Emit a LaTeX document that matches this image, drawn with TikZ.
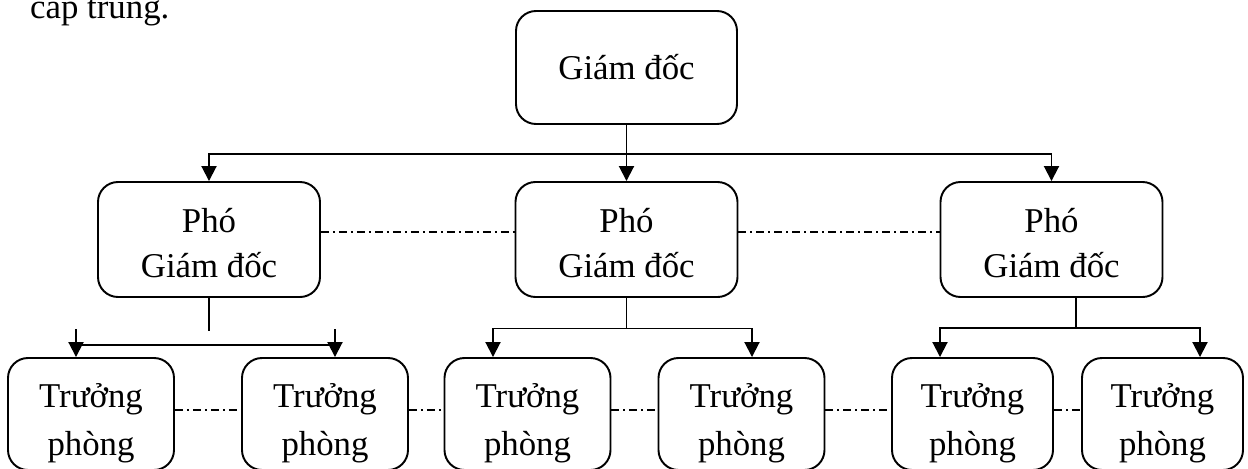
\documentclass[tikz,border=0pt]{standalone}
\usepackage{fontspec}
\setmainfont{Liberation Serif}
\usetikzlibrary{arrows.meta}
\newcommand\pgdtext{\rule{0pt}{0.62cm}Phó\\Giám đốc}
\newcommand\tptext{\rule{0pt}{0.84cm}Trưởng\\phòng}
\begin{document}
\begin{tikzpicture}
          [x=0.2mm,y=-0.2mm,
          font=\fontsize{19.8}{25.5}\selectfont,
          box/.style={shape=rectangle,draw,rounded corners=0.4cm,line width=1.1pt,align=center,inner sep=0pt},
          boss/.style={box,minimum width=4.42cm,minimum height=2.26cm},
          deputy/.style={box,minimum width=4.44cm,minimum height=2.3cm},
          head/.style={box,minimum width=3.32cm,minimum height=2.24cm,
            font=\fontsize{19.8}{27.2}\selectfont},
          arc/.style={-{Triangle[length=0.3cm,width=0.3cm]},line width=1.1pt},
          edge/.style={line width=1.1pt},
          link/.style={line width=0.8pt,dash pattern=on 0.16cm off 0.08cm on 0.04cm off 0.08cm}]

            \useasboundingbox (0,0) rectangle (1248,468);

            \node (note) [anchor=base west] at (24,18) {cấp trung.};

            \node (gd) [boss] at (626.5,67.5) {Giám đốc};

            \node (pgd1) [deputy] at (209,239.5) {\pgdtext};
            \node (pgd2) [deputy] at (626.5,239.5) {\pgdtext};
            \node (pgd3) [deputy] at (1051.5,239.5) {\pgdtext};

            \node (tp1) [head] at (91,414) {\tptext};
            \node (tp2) [head] at (325,414) {\tptext};
            \node (tp3) [head] at (527.5,414) {\tptext};
            \node (tp4) [head] at (741.5,414) {\tptext};
            \node (tp5) [head,minimum width=3.22cm] at (972.5,414) {\tptext};
            \node (tp6) [head,minimum width=3.22cm] at (1162.5,414) {\tptext};

          % giam doc -> pho giam doc
          \draw [edge] (gd.south) -- ++(0,29) coordinate (bus);
          \draw [arc] (bus) -| (pgd1.north);
          \draw [arc] (bus) -| (pgd3.north);
          \draw [arc] (bus) -- (pgd2.north);

          % nhanh trai
          \draw [edge] (pgd1.south) -- ++(0,33);
          \draw [edge] ([xshift=-3mm,yshift=2.4mm]tp1.north) -- ([xshift=2mm,yshift=2.4mm]tp2.north);
          \draw [arc] ([xshift=-3mm,yshift=5.6mm]tp1.north) -- ([xshift=-3mm]tp1.north);
          \draw [arc] ([xshift=2mm,yshift=5.6mm]tp2.north) -- ([xshift=2mm]tp2.north);

          % nhanh giua
          \draw [edge] (pgd2.south) -- ++(0,30.5) coordinate (m2);
          \draw [arc] (m2) -| ([xshift=-6.9mm]tp3.north);
          \draw [arc] (m2) -| ([xshift=2.1mm]tp4.north);

          % nhanh phai
          \draw [edge] ([xshift=4.9mm]pgd3.south) -- ++(0,30) coordinate (m3);
          \draw [arc] (m3) -| ([xshift=-6.5mm]tp5.north);
          \draw [arc] (m3) -| ([xshift=7.5mm]tp6.north);

          % lien he ngang
          \draw [link] ([yshift=1.5mm]pgd1.east) -- ([yshift=1.5mm]pgd2.west);
          \draw [link] ([yshift=1.5mm]pgd2.east) -- ([yshift=1.5mm]pgd3.west);
          \draw [link] ([yshift=0.8mm]tp1.east) -- ([yshift=0.8mm]tp2.west);
          \draw [link] ([yshift=0.8mm]tp2.east) -- ([yshift=0.8mm]tp3.west);
          \draw [link] ([yshift=0.8mm]tp3.east) -- ([yshift=0.8mm]tp4.west);
          \draw [link] ([yshift=0.8mm]tp4.east) -- ([yshift=0.8mm]tp5.west);
          \draw [link] ([yshift=0.8mm]tp5.east) -- ([yshift=0.8mm]tp6.west);

        \end{tikzpicture}
\end{document}
